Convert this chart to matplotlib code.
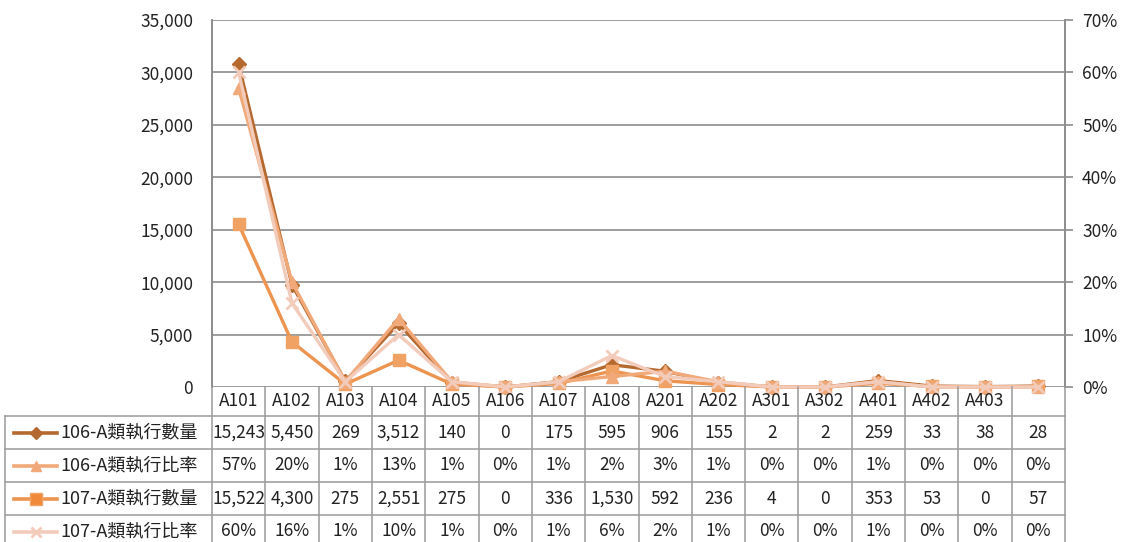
import matplotlib
matplotlib.use("Agg")
import matplotlib.pyplot as plt
import matplotlib.transforms as mtransforms
from matplotlib.lines import Line2D
from matplotlib.ticker import FuncFormatter, MultipleLocator

plt.rcParams['font.family'] = ['Noto Sans CJK TC', 'DejaVu Sans']

categories = ["A101", "A102", "A103", "A104", "A105", "A106", "A107", "A108",
              "A201", "A202", "A301", "A302", "A401", "A402", "A403", ""]
cnt_106 = [15243, 5450, 269, 3512, 140, 0, 175, 595, 906, 155, 2, 2, 259, 33, 38, 28]
rate_106 = [0.57, 0.20, 0.01, 0.13, 0.01, 0.00, 0.01, 0.02, 0.03, 0.01, 0.00, 0.00, 0.01, 0.00, 0.00, 0.00]
cnt_107 = [15522, 4300, 275, 2551, 275, 0, 336, 1530, 592, 236, 4, 0, 353, 53, 0, 57]
rate_107 = [0.60, 0.16, 0.01, 0.10, 0.01, 0.00, 0.01, 0.06, 0.02, 0.01, 0.00, 0.00, 0.01, 0.00, 0.00, 0.00]

names = ["106-A類執行數量", "106-A類執行比率", "107-A類執行數量", "107-A類執行比率"]
row_text = [
    [f"{v:,}" for v in cnt_106],
    [f"{v:.0%}" for v in rate_106],
    [f"{v:,}" for v in cnt_107],
    [f"{v:.0%}" for v in rate_107],
]

c_cnt106 = "#B5692F"
c_rate106 = "#F1A97A"
c_cnt107 = "#EC9450"
c_rate107 = "#F2CBBA"
grid_c = "#8C8C8C"
fs = 12.5
PX = 72 / 100  # points per pixel

W, H = 1121, 542
fig = plt.figure(figsize=(W / 100, H / 100), dpi=100)
L, R, T, B = 212, 1065, 20, 387
ax = fig.add_axes([L / W, 1 - B / H, (R - L) / W, (B - T) / H])
ax2 = ax.twinx()

x = list(range(len(categories)))
# stacked line on the primary axis: 107 at bottom, 106 on top of it
stack_top = [a + b for a, b in zip(cnt_107, cnt_106)]

ax.plot(x, stack_top, color=c_cnt106, lw=2.4, marker="D", ms=7,
        mfc=c_cnt106, mec=c_cnt106, clip_on=False, zorder=3)
ax.plot(x, cnt_107, color=c_cnt107, lw=2.4, marker="s", ms=9,
        mfc="#F0A264", mec="#F0A264", clip_on=False, zorder=3)
ax2.plot(x, rate_106, color=c_rate106, lw=2.4, marker="^", ms=8,
         mfc=c_rate106, mec=c_rate106, clip_on=False, zorder=3)
ax2.plot(x, rate_107, color=c_rate107, lw=2.4, marker="x", ms=8, mew=2,
         mec=c_rate107, clip_on=False, zorder=3)

ax.set_xlim(-0.5, len(categories) - 0.5)
ax.set_ylim(0, 35000)
ax2.set_ylim(0, 0.70)
ax.yaxis.set_major_locator(MultipleLocator(5000))
ax2.yaxis.set_major_locator(MultipleLocator(0.10))
ax.yaxis.set_major_formatter(FuncFormatter(lambda v, p: f"{v:,.0f}"))
ax2.yaxis.set_major_formatter(FuncFormatter(lambda v, p: f"{v:.0%}"))
ax.grid(axis="y", color=grid_c, lw=1.2)
ax.set_axisbelow(True)
ax.set_xticks([])
ax.tick_params(axis="y", length=0, pad=19 * PX, labelsize=fs, labelcolor="#222222")
ax2.tick_params(axis="y", length=8 * PX, width=1.2, color=grid_c, pad=9 * PX,
                labelsize=fs, labelcolor="#222222")
for a in (ax, ax2):
    for s in ("top", "bottom"):
        a.spines[s].set_visible(False)
    a.spines["left"].set_color(grid_c)
    a.spines["right"].set_color(grid_c)
    a.spines["left"].set_linewidth(1.2)
    a.spines["right"].set_linewidth(1.2)

# data table below the plot
bt = mtransforms.blended_transform_factory(ax.transData, fig.transFigure)
fy = lambda py: 1 - py / H
fx = lambda px: px / W
tbl_c = "#9A9A9A"
rows_y = [416, 449, 482, 515, 548]

for k in range(len(categories) + 1):
    fig.add_artist(Line2D([k - 0.5, k - 0.5], [fy(B), fy(rows_y[-1])],
                          transform=bt, color=tbl_c, lw=1.1))
for yy in rows_y:
    fig.add_artist(Line2D([fx(5), fx(R)], [fy(yy), fy(yy)],
                          transform=fig.transFigure, color=tbl_c, lw=1.1))
fig.add_artist(Line2D([fx(5), fx(5)], [fy(rows_y[0]), fy(rows_y[-1])],
                      transform=fig.transFigure, color=tbl_c, lw=1.1))

for i, c in enumerate(categories):
    fig.text(i, fy((B + rows_y[0]) / 2), c, transform=bt, ha="center",
             va="center", fontsize=fs, color="#222222")

key_styles = [
    dict(color=c_cnt106, marker="D", ms=6, mfc=c_cnt106, mec=c_cnt106),
    dict(color=c_rate106, marker="^", ms=7, mfc=c_rate106, mec=c_rate106),
    dict(color=c_cnt107, marker="s", ms=8, mfc="#F08A3A", mec="#F0A264"),
    dict(color=c_rate107, marker="x", ms=7, mew=2, mec=c_rate107),
]
for r in range(4):
    yc = fy((rows_y[r] + rows_y[r + 1]) / 2)
    fig.add_artist(Line2D([fx(14), fx(36), fx(57)], [yc, yc, yc],
                          transform=fig.transFigure, lw=2.6,
                          markevery=[1], **key_styles[r]))
    fig.text(fx(60), yc, names[r], ha="left", va="center", fontsize=13,
             color="#222222")
    for i, t in enumerate(row_text[r]):
        fig.text(i, yc, t, transform=bt, ha="center", va="center",
                 fontsize=fs, color="#222222")

fig.savefig("out.png", dpi=100)
